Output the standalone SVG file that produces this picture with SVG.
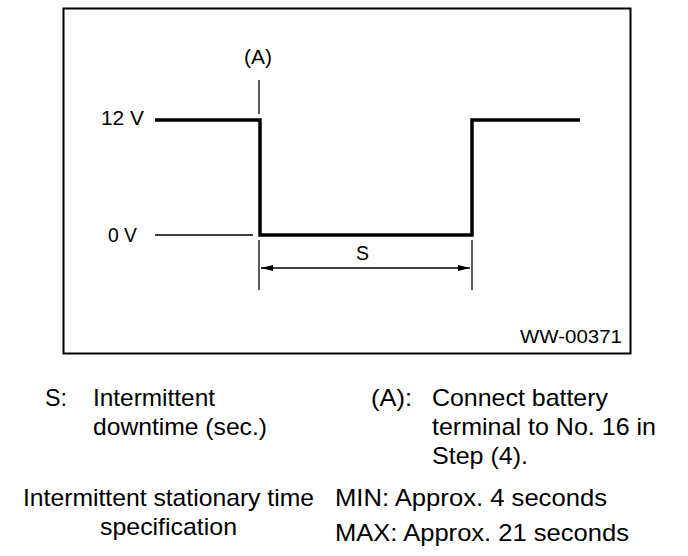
<svg xmlns="http://www.w3.org/2000/svg" width="688" height="556" viewBox="0 0 688 556">
<style>
text{font-family:"Liberation Sans",Arial,sans-serif;fill:#000}
.lbl{font-size:21px}
.cap{font-size:24px}
.thick{stroke:#000;stroke-width:3.5;fill:none}
.thin{stroke:#000;stroke-width:1.3;fill:none}
</style>
<defs>
<marker id="ar" markerWidth="12" markerHeight="8" refX="12" refY="4" orient="auto-start-reverse" markerUnits="userSpaceOnUse">
<path d="M0,1 L12,4 L0,7 Z" fill="#000"/>
</marker>
</defs>
<rect x="63.5" y="8.5" width="567" height="345" fill="none" stroke="#000" stroke-width="2"/>
<g id="connectors">
<path id="wave" class="thick" d="M155,120 H260 V235 H472 V120 H580"/>
<line class="thin" x1="155" y1="235" x2="253" y2="235"/>
<line class="thin" x1="259" y1="80" x2="259" y2="114"/>
<line class="thin" x1="259" y1="240" x2="259" y2="290"/>
<line class="thin" x1="472" y1="240" x2="472" y2="290"/>
<line class="thin" x1="261" y1="268" x2="470" y2="268" marker-start="url(#ar)" marker-end="url(#ar)"/>
</g>
<g id="labels">
<text class="lbl" x="244" y="64" textLength="28" lengthAdjust="spacingAndGlyphs">(A)</text>
<text class="lbl" x="101" y="125" textLength="43" lengthAdjust="spacingAndGlyphs">12 V</text>
<text class="lbl" x="108" y="242" textLength="29" lengthAdjust="spacingAndGlyphs">0 V</text>
<text class="lbl" x="356" y="260" textLength="13" lengthAdjust="spacingAndGlyphs">S</text>
<text x="520" y="343" font-size="18" textLength="102" lengthAdjust="spacingAndGlyphs">WW-00371</text>
</g>
<g id="legend">
<text class="cap" x="45" y="406" textLength="22" lengthAdjust="spacingAndGlyphs">S:</text>
<text class="cap" x="93" y="406" textLength="122" lengthAdjust="spacingAndGlyphs">Intermittent</text>
<text class="cap" x="93" y="435" textLength="174" lengthAdjust="spacingAndGlyphs">downtime (sec.)</text>
<text class="cap" x="371" y="406" textLength="41" lengthAdjust="spacingAndGlyphs">(A):</text>
<text class="cap" x="432" y="406" textLength="176" lengthAdjust="spacingAndGlyphs">Connect battery</text>
<text class="cap" x="432" y="435" textLength="224" lengthAdjust="spacingAndGlyphs">terminal to No. 16 in</text>
<text class="cap" x="432" y="464" textLength="96" lengthAdjust="spacingAndGlyphs">Step (4).</text>
<text class="cap" x="23" y="506" textLength="291" lengthAdjust="spacingAndGlyphs">Intermittent stationary time</text>
<text class="cap" x="100" y="535" textLength="137" lengthAdjust="spacingAndGlyphs">specification</text>
<text class="cap" x="335" y="506" textLength="272" lengthAdjust="spacingAndGlyphs">MIN: Approx. 4 seconds</text>
<text class="cap" x="335" y="541" textLength="294" lengthAdjust="spacingAndGlyphs">MAX: Approx. 21 seconds</text>
</g>
</svg>
